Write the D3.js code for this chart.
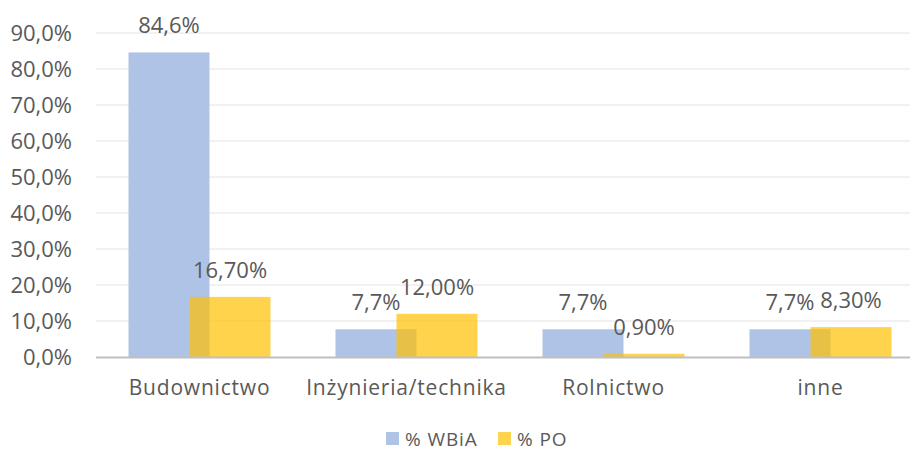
<!DOCTYPE html>
<html>
<head>
<meta charset="utf-8">
<script src="https://cdn.jsdelivr.net/npm/d3@7"></script>
<style>
  html, body { margin: 0; padding: 0; background: #fff; }
  svg { display: block; }
  text { font-family: "Open Sans", sans-serif; fill: #595959; }
</style>
</head>
<body>
<svg id="chart" width="910" height="451"></svg>
<script>
const categories = ["Budownictwo", "Inżynieria/technika", "Rolnictwo", "inne"];
const seriesNames = ["% WBiA", "% PO"];
const wbiaValues = [0.846, 0.077, 0.077, 0.077];
const poValues = [0.167, 0.12, 0.009, 0.083];
const yTicks = [0, 0.1, 0.2, 0.3, 0.4, 0.5, 0.6, 0.7, 0.8, 0.9];

const locale = d3.formatLocale({decimal: ",", thousands: " ", grouping: [3], currency: ["", " zł"]});
const fmt1 = locale.format(".1%");
const fmt2 = locale.format(".2%");

const svg = d3.select("#chart");
const plotLeft = 96, plotRight = 910, plotTop = 33, plotBottom = 357;

const x = d3.scaleBand().domain(categories).range([96, 924]).padding(0);
const sx = d3.scalePoint().domain(seriesNames).range([-30.5, 30.5]);
const barW = 81;
const y = d3.scaleLinear().domain([0, 0.9]).range([plotBottom, plotTop]);

// gridlines
svg.append("g").selectAll("line").data(yTicks.filter(t => t > 0)).join("line")
  .attr("x1", plotLeft).attr("x2", plotRight)
  .attr("y1", d => y(d)).attr("y2", d => y(d))
  .attr("stroke", "#ececec").attr("stroke-width", 1.3);

// y axis labels
const yAxis = d3.axisLeft(y).tickValues(yTicks).tickFormat(fmt1).tickSize(0).tickPadding(0);
const ya = svg.append("g").attr("transform", `translate(72,0)`).call(yAxis);
ya.select(".domain").remove();
ya.selectAll("text").attr("font-size", 22).attr("font-family", "Open Sans, sans-serif").attr("fill", "#595959");

const colors = {"% WBiA": "#afc3e6", "% PO": "#ffc000"};
const opac = {"% WBiA": 1, "% PO": 0.7};
const dataSets = [
  {name: "% WBiA", values: wbiaValues, fmt: fmt1},
  {name: "% PO", values: poValues, fmt: fmt2}
];

dataSets.forEach(s => {
  const g = svg.append("g");
  g.selectAll("rect").data(s.values).join("rect")
    .attr("x", (d, i) => x(categories[i]) + x.bandwidth() / 2 + sx(s.name) - barW / 2)
    .attr("width", barW)
    .attr("y", d => y(d))
    .attr("height", d => y(0) - y(d))
    .attr("fill", colors[s.name])
    .attr("fill-opacity", opac[s.name]);
});

// zero axis line
svg.append("line").attr("x1", plotLeft).attr("x2", plotRight)
  .attr("y1", y(0) + 0.5).attr("y2", y(0) + 0.5)
  .attr("stroke", "#bfbfbf").attr("stroke-width", 2);

// value labels
dataSets.forEach(s => {
  svg.append("g").selectAll("text").data(s.values).join("text")
    .attr("x", (d, i) => x(categories[i]) + x.bandwidth() / 2 + sx(s.name))
    .attr("y", d => y(d) - 19)
    .attr("text-anchor", "middle")
    .attr("font-size", 22)
    .text(d => s.fmt(d));
});

// category labels
const xAxis = d3.axisBottom(x).tickSize(0).tickPadding(0);
const xa = svg.append("g").attr("transform", `translate(0,${plotBottom})`).call(xAxis);
xa.select(".domain").remove();
xa.selectAll("text").attr("font-size", 21).attr("font-family", "Open Sans, sans-serif")
  .attr("letter-spacing", 0.8)
  .attr("fill", "#595959").attr("dy", null).attr("y", 38);

// legend
const legend = svg.append("g").attr("transform", "translate(386,432)");
const legendX = [0, 112];
seriesNames.forEach((n, i) => {
  const lg = legend.append("g").attr("transform", `translate(${legendX[i]},0)`);
  lg.append("rect").attr("width", 13).attr("height", 13).attr("fill", colors[n]).attr("fill-opacity", opac[n]);
  lg.append("text").attr("x", 19).attr("y", 13.5).attr("font-size", 19)
    .attr("letter-spacing", 0.9).text(n);
});
</script>
</body>
</html>
